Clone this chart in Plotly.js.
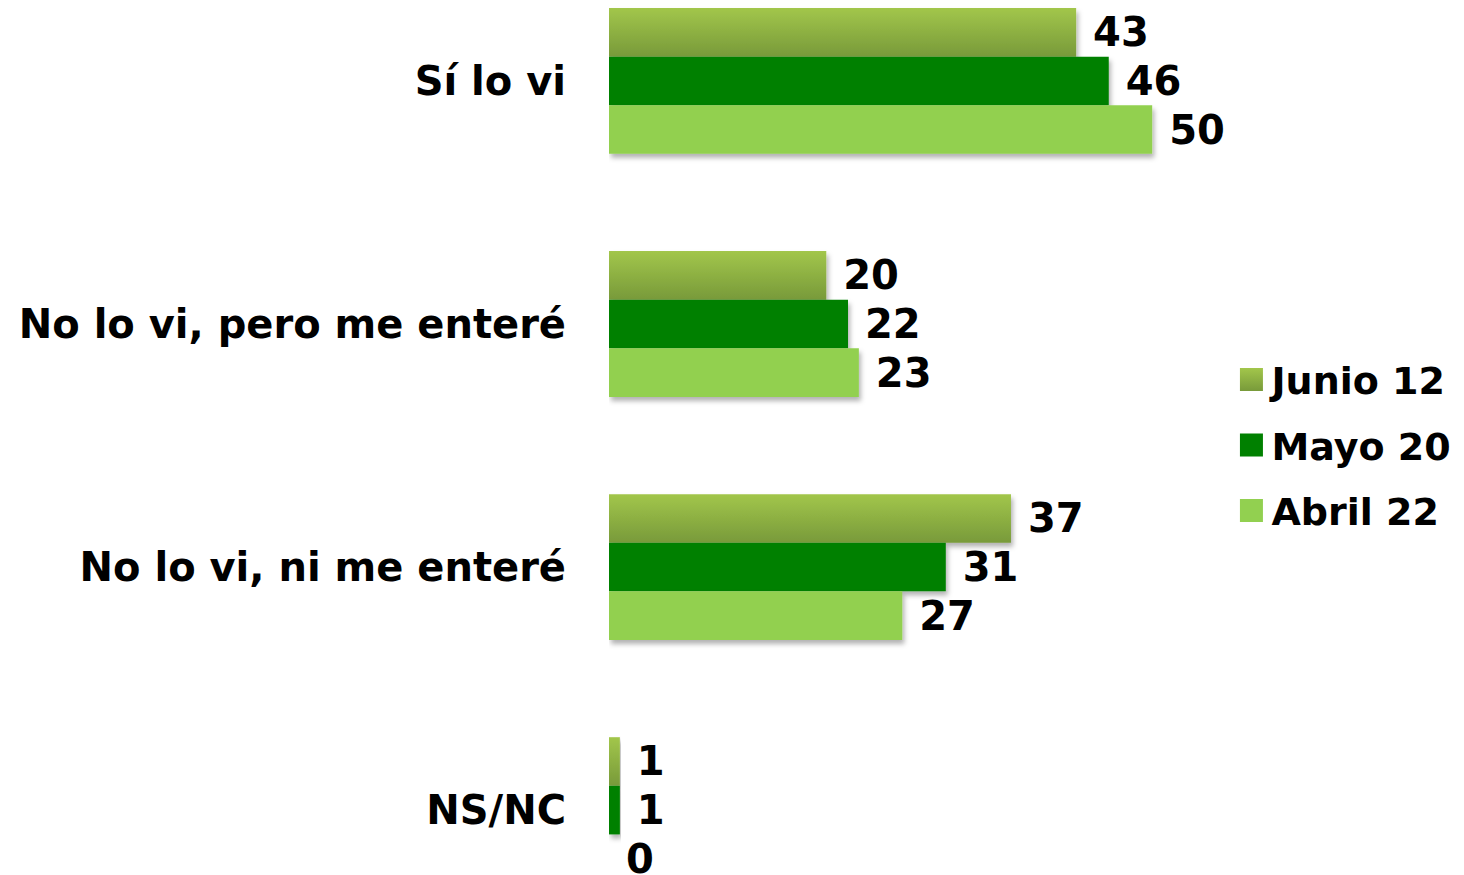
<!DOCTYPE html>
<html>
<head>
<meta charset="utf-8">
<script src="https://cdn.plot.ly/plotly-3.0.1.min.js"></script>
<style>html,body{margin:0;padding:0;background:#fff;}#chart{width:1464px;height:875px;}</style>
</head>
<body>
<div id="chart"></div>
<script>
const categories = ["Sí lo vi", "No lo vi, pero me enteré", "No lo vi, ni me enteré", "NS/NC"];
const seriesNames = ["Junio 12", "Mayo 20", "Abril 22"];
const junio12 = [43, 20, 37, 1];
const mayo20 = [46, 22, 31, 1];
const abril22 = [50, 23, 27, 0];
const colors = ["#8DAF45", "#008000", "#92D050"];

const FONT = "DejaVu Sans, Verdana, sans-serif";
const values = [junio12, mayo20, abril22];
const traces = values.map((v, i) => ({
  type: "bar",
  orientation: "h",
  name: seriesNames[i],
  legendgroup: "g" + i,
  y: categories,
  x: v,
  marker: {color: colors[i]},
  texttemplate: " %{x}",
  textposition: "outside",
  constraintext: "none",
  cliponaxis: false,
  textfont: {family: FONT, size: 40, color: "#000", weight: "bold"},
  hoverinfo: "none"
}));

const layout = {
  width: 1464, height: 875,
  margin: {l: 609, r: 0, t: 0, b: 0},
  paper_bgcolor: "#fff", plot_bgcolor: "#fff",
  barmode: "group",
  bargap: 0.40,
  bargroupgap: 0,
  showlegend: true,
  legend: {x: 0.728, y: 0.491, xanchor: "left", yanchor: "middle", traceorder: "grouped",
           tracegroupgap: 13, font: {family: FONT, size: 38, color: "#000", weight: "bold"},
           bgcolor: "rgba(0,0,0,0)"},
  xaxis: {range: [0, 78.7], visible: false, showgrid: false, zeroline: false},
  yaxis: {type: "category", categoryorder: "array", categoryarray: categories,
          range: [3.267, -0.333], showgrid: false, zeroline: false, showline: false,
          ticks: "", ticklabelstandoff: 42,
          tickfont: {family: FONT, size: 40, color: "#000", weight: "bold"}},
  font: {family: FONT}
};

const gd = document.getElementById("chart");
const NS = "http://www.w3.org/2000/svg";
function applyStyling() {
  const svg = gd.querySelector("svg.main-svg");
  if (!svg) return;
  let defs = svg.querySelector("defs");
  if (!defs) { defs = document.createElementNS(NS, "defs"); svg.insertBefore(defs, svg.firstChild); }
  if (!svg.querySelector("#junioGrad")) {
    const g = document.createElementNS(NS, "linearGradient");
    g.setAttribute("id", "junioGrad");
    g.setAttribute("x1", "0"); g.setAttribute("y1", "0"); g.setAttribute("x2", "0"); g.setAttribute("y2", "1");
    [["0", "#A2C64B"], ["1", "#789A3A"]].forEach(([o, c]) => {
      const s = document.createElementNS(NS, "stop");
      s.setAttribute("offset", o); s.setAttribute("stop-color", c);
      g.appendChild(s);
    });
    defs.appendChild(g);
    const f = document.createElementNS(NS, "filter");
    f.setAttribute("id", "barShadow");
    f.setAttribute("x", "-5%"); f.setAttribute("y", "-20%"); f.setAttribute("width", "115%"); f.setAttribute("height", "160%");
    const ds = document.createElementNS(NS, "feDropShadow");
    ds.setAttribute("dx", "2"); ds.setAttribute("dy", "4"); ds.setAttribute("stdDeviation", "2.5");
    ds.setAttribute("flood-color", "#000"); ds.setAttribute("flood-opacity", "0.3");
    f.appendChild(ds);
    defs.appendChild(f);
  }
  const trs = gd.querySelectorAll(".barlayer .trace");
  trs.forEach((t, i) => {
    t.querySelectorAll("path").forEach(p => {
      if (i === 0) p.style.fill = "url(#junioGrad)";
      p.setAttribute("filter", "url(#barShadow)");
    });
  });
  gd.querySelectorAll(".legend .traces").forEach((tr, i) => {
    const p = tr.querySelector(".legendpoints path");
    if (p) {
      p.setAttribute("d", "M11.5,11.5H-11.5V-11.5H11.5Z");
      if (i === 0) p.style.fill = "url(#junioGrad)";
    }
  });
}
Plotly.newPlot(gd, traces, layout, {staticPlot: true}).then(applyStyling);
</script>
</body>
</html>
